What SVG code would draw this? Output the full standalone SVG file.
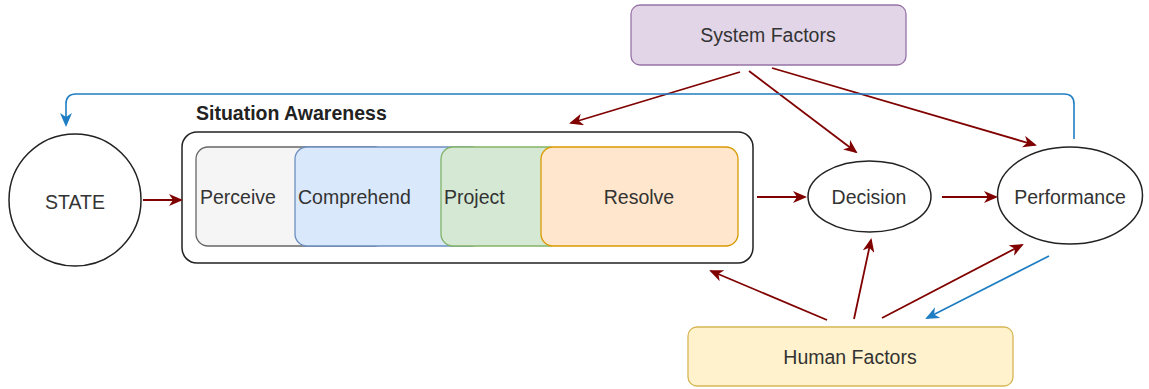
<svg xmlns="http://www.w3.org/2000/svg" width="1149" height="389" viewBox="0 0 1149 389">
<style>
text{font-family:"Liberation Sans",Arial,sans-serif;font-size:19.5px;fill:#333}
.title{font-weight:bold;fill:#222}
.mid{text-anchor:middle}
.red{stroke:#800000;stroke-width:1.8;fill:none;marker-end:url(#ar)}
.blue{stroke:#1f7ec3;stroke-width:1.6;fill:none;marker-end:url(#ab)}
.ol{stroke:#222;stroke-width:1.5;fill:#fff}
</style>
<defs>
<marker id="ar" markerUnits="userSpaceOnUse" markerWidth="14" markerHeight="12" viewBox="0 0 14 12" refX="12" refY="6" orient="auto"><path d="M0,0 L14,6 L0,12 L4,6 Z" fill="#800000"/></marker>
<marker id="ab" markerUnits="userSpaceOnUse" markerWidth="14" markerHeight="12" viewBox="0 0 14 12" refX="12" refY="6" orient="auto"><path d="M0,0 L14,6 L0,12 L4,6 Z" fill="#1f7ec3"/></marker>
</defs>
<rect width="1149" height="389" fill="#fff"/>
<g id="state"><circle class="ol" cx="75" cy="200" r="66"/><text class="mid" x="75" y="209">STATE</text></g>
<g id="situation-awareness">
<rect class="ol" x="182" y="132" width="571" height="131" rx="15"/>
<text class="title" x="196" y="120">Situation Awareness</text>
</g>
<g id="perceive"><rect x="196" y="147" width="190" height="99" rx="12" fill="#f5f5f5" stroke="#666" stroke-width="1.3"/><text x="200" y="204">Perceive</text></g>
<g id="comprehend"><rect x="295" y="147" width="188" height="99" rx="12" fill="#dae8fc" stroke="#6c8ebf" stroke-width="1.3"/><text x="298" y="204">Comprehend</text></g>
<g id="project"><rect x="441" y="147" width="120" height="99" rx="12" fill="#d5e8d4" stroke="#82b366" stroke-width="1.3"/><text x="444" y="204">Project</text></g>
<g id="resolve"><rect x="541" y="147" width="197" height="99" rx="12" fill="#ffe6cc" stroke="#d79b00" stroke-width="1.3"/><text class="mid" x="639" y="204">Resolve</text></g>
<g id="decision"><ellipse class="ol" cx="869.5" cy="196.5" rx="61.5" ry="35.5"/><text class="mid" x="869" y="204">Decision</text></g>
<g id="performance"><ellipse class="ol" cx="1070" cy="195.5" rx="72.5" ry="48.5"/><text class="mid" x="1070" y="204">Performance</text></g>
<g id="system-factors"><rect x="631" y="5" width="275" height="60" rx="9" fill="#e1d5e7" stroke="#9673a6" stroke-width="1.3"/><text class="mid" x="768" y="42">System Factors</text></g>
<g id="human-factors"><rect x="688" y="327" width="325" height="59" rx="9" fill="#fff2cc" stroke="#d6b656" stroke-width="1.3"/><text class="mid" x="850" y="364">Human Factors</text></g>
<g id="connectors">
<line class="red" x1="143" y1="200" x2="181" y2="200"/>
<line class="red" x1="757" y1="197" x2="805" y2="197"/>
<line class="red" x1="942" y1="197" x2="996" y2="197"/>
<line class="red" x1="740" y1="72" x2="571" y2="123"/>
<line class="red" x1="749" y1="71" x2="856" y2="152"/>
<line class="red" x1="772" y1="68" x2="1035" y2="145"/>
<line class="red" x1="827" y1="320" x2="711" y2="271"/>
<line class="red" x1="854" y1="319" x2="871" y2="240"/>
<line class="red" x1="882" y1="318" x2="1022" y2="245"/>
<line class="blue" x1="1049" y1="256" x2="927" y2="318"/>
<path class="blue" d="M1074,139 V104 Q1074,94 1064,94 H76 Q66,94 66,104 V125"/>
</g>
</svg>
